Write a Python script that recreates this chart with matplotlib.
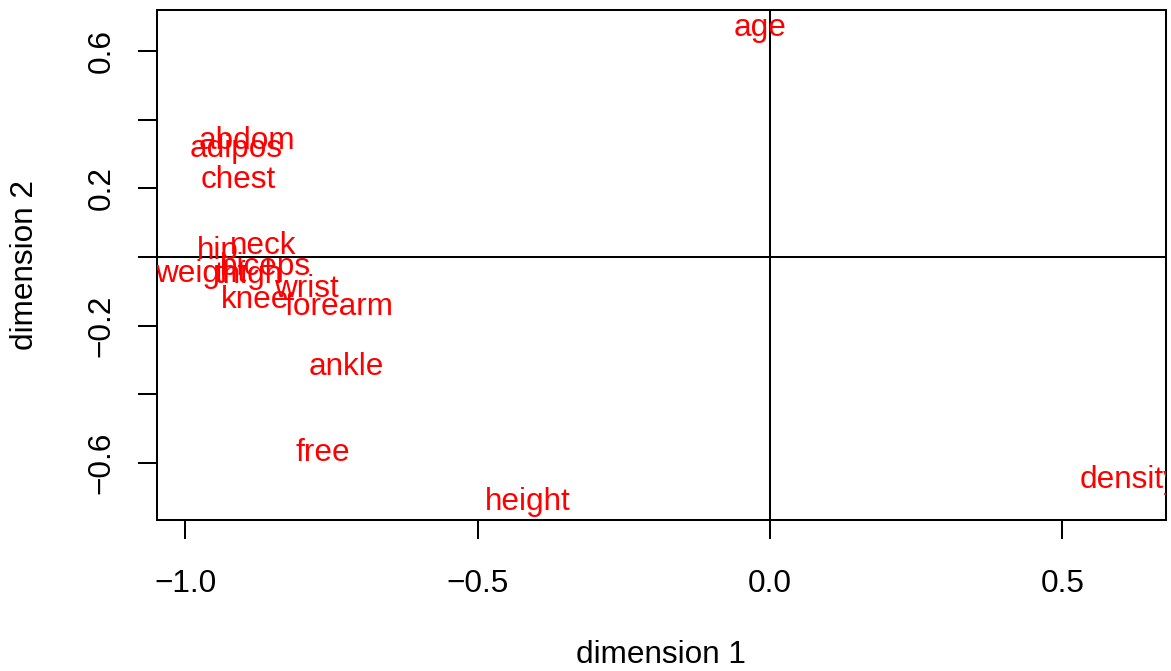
import matplotlib
matplotlib.use("Agg")
import matplotlib.pyplot as plt
from matplotlib import transforms

plt.rcParams['font.family'] = ['Liberation Sans', 'DejaVu Sans']

# loadings of the body fat variables on the first two dimensions
variables = ['age', 'abdom', 'adipos', 'chest', 'neck', 'hip', 'biceps',
             'weight', 'thigh', 'wrist', 'knee', 'forearm', 'ankle',
             'free', 'height', 'density']
dim1 = [-0.017, -0.895, -0.912, -0.909, -0.867, -0.944, -0.862,
        -0.974, -0.892, -0.793, -0.880, -0.737, -0.725,
        -0.764, -0.414, 0.615]
dim2 = [0.676, 0.347, 0.323, 0.233, 0.041, 0.026, -0.020,
        -0.041, -0.044, -0.084, -0.117, -0.137, -0.312,
        -0.562, -0.705, -0.641]

xticks = [-1.0, -0.5, 0.0, 0.5]
xticklabels = ['\u22121.0', '\u22120.5', '0.0', '0.5']
yticks = [-0.6, -0.4, -0.2, 0.0, 0.2, 0.4, 0.6]
yticklabels = ['\u22120.6', '', '\u22120.2', '', '0.2', '', '0.6']

W, H = 1171, 671
fig = plt.figure(figsize=(W / 100, H / 100), dpi=100)
ax = fig.add_axes([157 / W, 1 - 520 / H, (1166 - 157) / W, (520 - 10) / H])

fs = 22.7
lw = 1.45
ax.set_xlim(-1.048, 0.677)
ax.set_ylim(-0.766, 0.719)

# centre labels like R's text(): nudge down slightly from the bbox centre
lab_tr = transforms.offset_copy(ax.transData, fig=fig, x=0, y=-3, units='dots')
for name, x, y in zip(variables, dim1, dim2):
    ax.text(x, y, name, color='red', fontsize=fs, ha='center', va='center',
            transform=lab_tr, clip_on=True)

ax.axhline(0, color='black', lw=lw)
ax.axvline(0, color='black', lw=lw)

for s in ax.spines.values():
    s.set_linewidth(lw)

ax.set_xticks(xticks)
ax.set_xticklabels(xticklabels, fontsize=fs)
ax.set_yticks(yticks)
ax.set_yticklabels(yticklabels, fontsize=fs, rotation=90, va='center')
ax.tick_params(axis='both', direction='out', length=14, width=lw)
ax.tick_params(axis='x', pad=21)
ax.tick_params(axis='y', pad=15)

fig.text(661 / W, 1 - 655 / H, 'dimension 1', fontsize=fs,
         ha='center', va='center')
fig.text(25 / W, 1 - 265 / H, 'dimension 2', fontsize=fs,
         ha='center', va='center', rotation=90)

fig.savefig('out.png', dpi=100)
